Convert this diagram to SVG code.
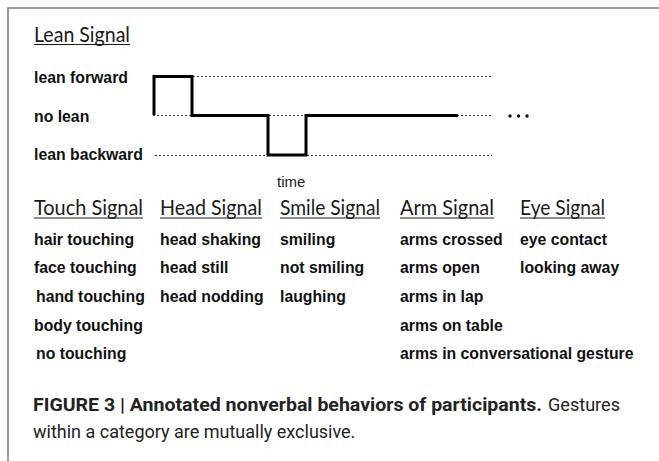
<svg xmlns="http://www.w3.org/2000/svg" width="659" height="461" viewBox="0 0 659 461">
<style>
.hdr{font-family:Lato,"Open Sans","Liberation Sans",sans-serif;font-size:21px;fill:#1a1a1a}
.ul{stroke:#1a1a1a;stroke-width:1.2}
.it{font-family:"Liberation Sans",Arial,sans-serif;font-size:15.8px;font-weight:bold;fill:#111}
.dot{stroke:#333;stroke-width:1;stroke-dasharray:2 2;fill:none}
.sig{stroke:#000;stroke-width:3;fill:none;stroke-linejoin:miter}
.cap{font-family:Roboto,"Liberation Sans",sans-serif;font-size:18px;fill:#222}
</style>
<rect width="659" height="461" fill="#fff"/>
<g id="frame" stroke="#808080" stroke-width="1.6" fill="none">
<path d="M8 461 V8 H659"/>
</g>
<g id="lean">
<text class="hdr" x="34" y="42" textLength="96" lengthAdjust="spacingAndGlyphs">Lean Signal</text>
<line class="ul" x1="34" y1="44.5" x2="130" y2="44.5"/>
<text class="it" x="34" y="83">lean forward</text>
<text class="it" x="34" y="122">no lean</text>
<text class="it" x="34" y="160">lean backward</text>
</g>
<g id="connectors">
<line class="dot" x1="193" y1="76.5" x2="492" y2="76.5"/>
<line class="dot" x1="153" y1="115.5" x2="492" y2="115.5"/>
<line class="dot" x1="155" y1="155.5" x2="492" y2="155.5"/>
<path class="sig" d="M154 115 V76.5 H192 V115.5 H268 V155 H306 V115.5 H458"/>
</g>
<g id="ellipsis" fill="#111">
<circle cx="510" cy="116" r="1.7"/><circle cx="518.5" cy="116" r="1.7"/><circle cx="527" cy="116" r="1.7"/>
</g>
<g id="time"><text x="277" y="187" font-family="Liberation Sans,Arial,sans-serif" font-size="15" fill="#222">time</text></g>
<g id="touch">
<text class="hdr" x="34" y="215" textLength="109" lengthAdjust="spacingAndGlyphs">Touch Signal</text>
<line class="ul" x1="34" y1="218" x2="143" y2="218"/>
<text class="it" x="34" y="245">hair touching</text>
<text class="it" x="34" y="273">face touching</text>
<text class="it" x="36" y="302">hand touching</text>
<text class="it" x="34" y="331">body touching</text>
<text class="it" x="36" y="359">no touching</text>
</g>
<g id="head">
<text class="hdr" x="160" y="215" textLength="102" lengthAdjust="spacingAndGlyphs">Head Signal</text>
<line class="ul" x1="160" y1="218" x2="262" y2="218"/>
<text class="it" x="160" y="245">head shaking</text>
<text class="it" x="160" y="273">head still</text>
<text class="it" x="160" y="302">head nodding</text>
</g>
<g id="smile">
<text class="hdr" x="280" y="215" textLength="100" lengthAdjust="spacingAndGlyphs">Smile Signal</text>
<line class="ul" x1="280" y1="218" x2="380" y2="218"/>
<text class="it" x="280" y="245">smiling</text>
<text class="it" x="280" y="273">not smiling</text>
<text class="it" x="280" y="302">laughing</text>
</g>
<g id="arm">
<text class="hdr" x="400" y="215" textLength="94" lengthAdjust="spacingAndGlyphs">Arm Signal</text>
<line class="ul" x1="400" y1="218" x2="494" y2="218"/>
<text class="it" x="400" y="245">arms crossed</text>
<text class="it" x="400" y="273">arms open</text>
<text class="it" x="400" y="302">arms in lap</text>
<text class="it" x="400" y="331">arms on table</text>
<text class="it" x="400" y="359">arms in conversational gesture</text>
</g>
<g id="eye">
<text class="hdr" x="520" y="215" textLength="85" lengthAdjust="spacingAndGlyphs">Eye Signal</text>
<line class="ul" x1="520" y1="218" x2="605" y2="218"/>
<text class="it" x="520" y="245">eye contact</text>
<text class="it" x="520" y="273">looking away</text>
</g>
<g id="caption">
<text class="cap" x="33" y="411"><tspan font-weight="bold" textLength="509" lengthAdjust="spacingAndGlyphs">FIGURE 3 | Annotated nonverbal behaviors of participants.</tspan><tspan x="548" textLength="72" lengthAdjust="spacingAndGlyphs">Gestures</tspan></text>
<text class="cap" x="33" y="438">within a category are mutually exclusive.</text>
</g>
</svg>
